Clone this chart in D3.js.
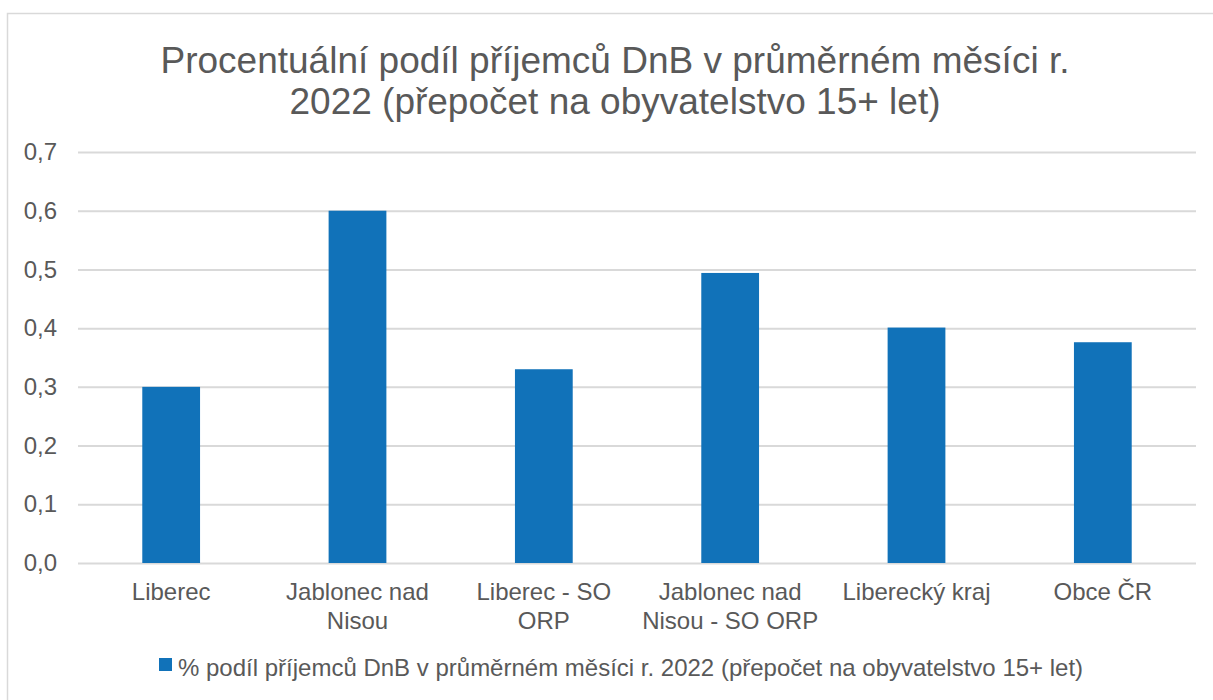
<!DOCTYPE html>
<html>
<head>
<meta charset="utf-8">
<script src="https://cdn.jsdelivr.net/npm/d3@7"></script>
<style>
  body { margin: 0; background: #fff; }
  text { font-family: "Liberation Sans", Arial, sans-serif; fill: #595959; }
</style>
</head>
<body>
<svg id="chart" width="1213" height="700"></svg>
<script>
const categories = [
  ["Liberec"],
  ["Jablonec nad", "Nisou"],
  ["Liberec - SO", "ORP"],
  ["Jablonec nad", "Nisou - SO ORP"],
  ["Liberecký kraj"],
  ["Obce ČR"]
];
const values = [0.30, 0.60, 0.33, 0.494, 0.401, 0.376];
const yTicks = [0, 0.1, 0.2, 0.3, 0.4, 0.5, 0.6, 0.7];
const titleLines = [
  "Procentuální podíl příjemců DnB v průměrném měsíci r.",
  "2022 (přepočet na obyvatelstvo 15+ let)"
];
const seriesName = "% podíl příjemců DnB v průměrném měsíci r. 2022 (přepočet na obyvatelstvo 15+ let)";

const barColor = "#1172b9";
const gridColor = "#d9d9d9";
const margin = {top: 152, right: 17, bottom: 137, left: 78};
const width = 1213, height = 700;

const svg = d3.select("#chart");

// outer frame
svg.append("rect")
  .attr("x", 7.5).attr("y", 13.5)
  .attr("width", 1230).attr("height", 720)
  .attr("fill", "none")
  .attr("stroke", gridColor)
  .attr("stroke-width", 1.5);

// title
svg.append("g").selectAll("text")
  .data(titleLines).enter()
  .append("text")
  .attr("x", 615)
  .attr("y", (d, i) => 73 + i * 41)
  .attr("text-anchor", "middle")
  .attr("font-size", 37)
  .text(d => d);

const x = d3.scaleBand()
  .domain(d3.range(categories.length))
  .range([margin.left, width - margin.right])
  .paddingInner(0.69)
  .paddingOuter(0.345);

const y = d3.scaleLinear()
  .domain([0, 0.7])
  .range([height - margin.bottom, margin.top]);

// gridlines + tick labels
svg.append("g")
  .attr("transform", `translate(${margin.left},0)`)
  .call(d3.axisLeft(y)
    .tickValues(yTicks)
    .tickSize(-(width - margin.left - margin.right))
    .tickFormat(d => d3.format(".1f")(d).replace(".", ",")))
  .call(g => g.select(".domain").remove())
  .call(g => g.selectAll(".tick line").attr("stroke", gridColor).attr("stroke-width", 2))
  .call(g => g.selectAll(".tick text")
    .attr("x", -21)
    .attr("font-size", 24)
    .attr("font-family", null)
    .attr("fill", "#595959"));

// bars
svg.append("g").selectAll("rect")
  .data(values).enter()
  .append("rect")
  .attr("x", (d, i) => x(i))
  .attr("width", x.bandwidth())
  .attr("y", d => y(d))
  .attr("height", d => y(0) - y(d))
  .attr("fill", barColor);

// category labels
const cat = svg.append("g").selectAll("text")
  .data(categories).enter()
  .append("text")
  .attr("text-anchor", "middle")
  .attr("font-size", 24)
  .attr("transform", (d, i) => `translate(${x(i) + x.bandwidth() / 2},600)`);
cat.selectAll("tspan")
  .data(d => d).enter()
  .append("tspan")
  .attr("x", 0)
  .attr("y", (d, i) => i * 29)
  .text(d => d);

// legend
const legend = svg.append("g");
legend.append("rect")
  .attr("x", 159).attr("y", 658)
  .attr("width", 13).attr("height", 13)
  .attr("fill", barColor);
legend.append("text")
  .attr("x", 178).attr("y", 676)
  .attr("font-size", 24)
  .text(seriesName);
</script>
</body>
</html>
